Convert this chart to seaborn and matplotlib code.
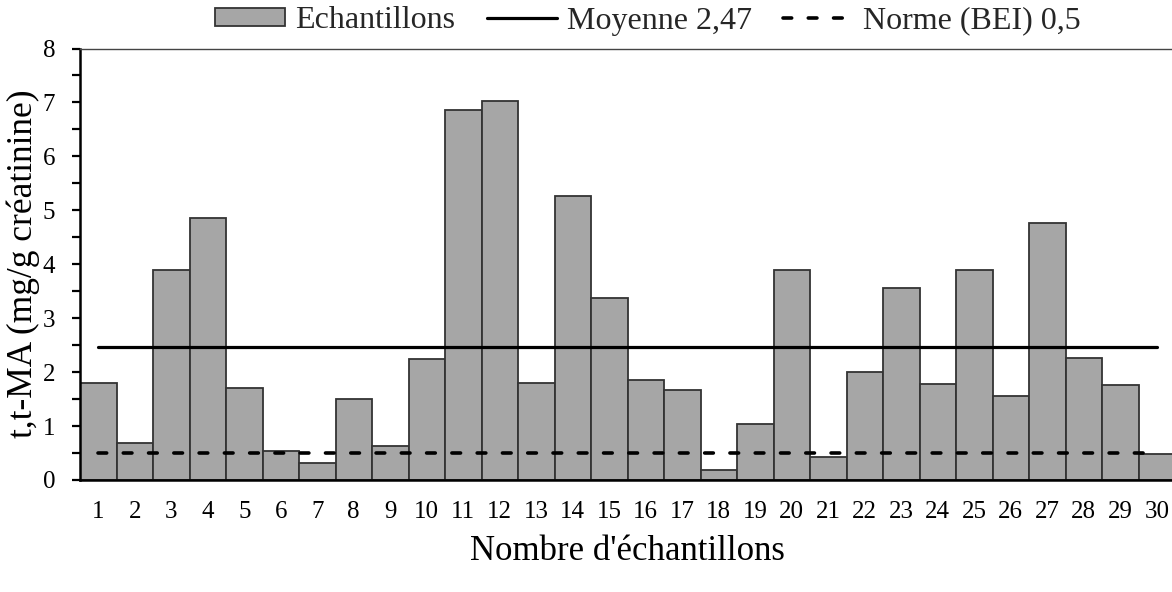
import matplotlib
matplotlib.use("Agg")
import matplotlib.pyplot as plt
from matplotlib.ticker import MultipleLocator
import seaborn as sns

# Data
echantillons = list(range(1, 31))
valeurs = [1.80, 0.69, 3.89, 4.86, 1.71, 0.54, 0.31, 1.50, 0.63, 2.24,
           6.86, 7.02, 1.80, 5.27, 3.37, 1.85, 1.66, 0.18, 1.03, 3.89,
           0.43, 2.00, 3.56, 1.78, 3.89, 1.56, 4.77, 2.26, 1.76, 0.48]
moyenne = 2.47
norme = 0.5

label_barres = "Echantillons"
label_moyenne = "Moyenne " + f"{moyenne:.2f}".replace(".", ",")
label_norme = "Norme (BEI) " + f"{norme:.1f}".replace(".", ",")

sns.set_theme(style="ticks")
plt.rcParams['font.family'] = ['Liberation Serif', 'DejaVu Serif']

fig = plt.figure(figsize=(11.72, 5.92), dpi=100)
ax = fig.add_axes([80 / 1172, 112 / 592, 1095 / 1172, 431.5 / 592])

# Bars
sns.barplot(x=echantillons, y=valeurs, native_scale=True, width=1,
            color='#a6a6a6', saturation=1, edgecolor='#333333',
            linewidth=1.3, label=label_barres, ax=ax)

# Mean and norm lines
sns.lineplot(x=echantillons, y=[moyenne] * len(echantillons), color='black',
             linewidth=2.3, label=label_moyenne, ax=ax)
sns.lineplot(x=echantillons, y=[norme] * len(echantillons), color='black',
             linewidth=2.6, linestyle=(0, (2.4, 4.6)), dash_capstyle='round',
             label=label_norme, ax=ax)

if ax.get_legend() is not None:
    ax.get_legend().remove()

ax.set_xlim(0.5, 30.5)
ax.set_ylim(0, 8)
ax.set_xticks(echantillons)
ax.set_xticklabels([str(e) for e in echantillons])
ax.yaxis.set_major_locator(MultipleLocator(1))
ax.yaxis.set_minor_locator(MultipleLocator(0.5))

ax.tick_params(axis='x', length=0, pad=15, labelsize=18, colors='black')
ax.tick_params(axis='y', which='both', direction='out', length=6, width=1.6,
               pad=12, labelsize=18, colors='black', left=True)

for side in ['left', 'bottom']:
    ax.spines[side].set_linewidth(1.8)
    ax.spines[side].set_color('black')
ax.spines['top'].set_linewidth(1.0)
ax.spines['top'].set_color('#444444')
ax.spines['right'].set_visible(False)

ax.set_xlabel("Nombre d'échantillons", fontsize=25, labelpad=9, color='black')
ax.set_ylabel("t,t-MA (mg/g créatinine)", fontsize=25.5, labelpad=2, color='black')

# Legend: bars first, then the two reference lines
handles, labels = ax.get_legend_handles_labels()
ordre = [labels.index(label_barres), labels.index(label_moyenne), labels.index(label_norme)]
fig.legend([handles[i] for i in ordre], [labels[i] for i in ordre],
           loc='center', bbox_to_anchor=(648 / 1172, 1 - 21 / 592),
           ncol=3, frameon=False, fontsize=23, handlelength=2.2,
           handleheight=0.5, handletextpad=0.3, columnspacing=1.0)

fig.savefig("out.png", dpi=100)
